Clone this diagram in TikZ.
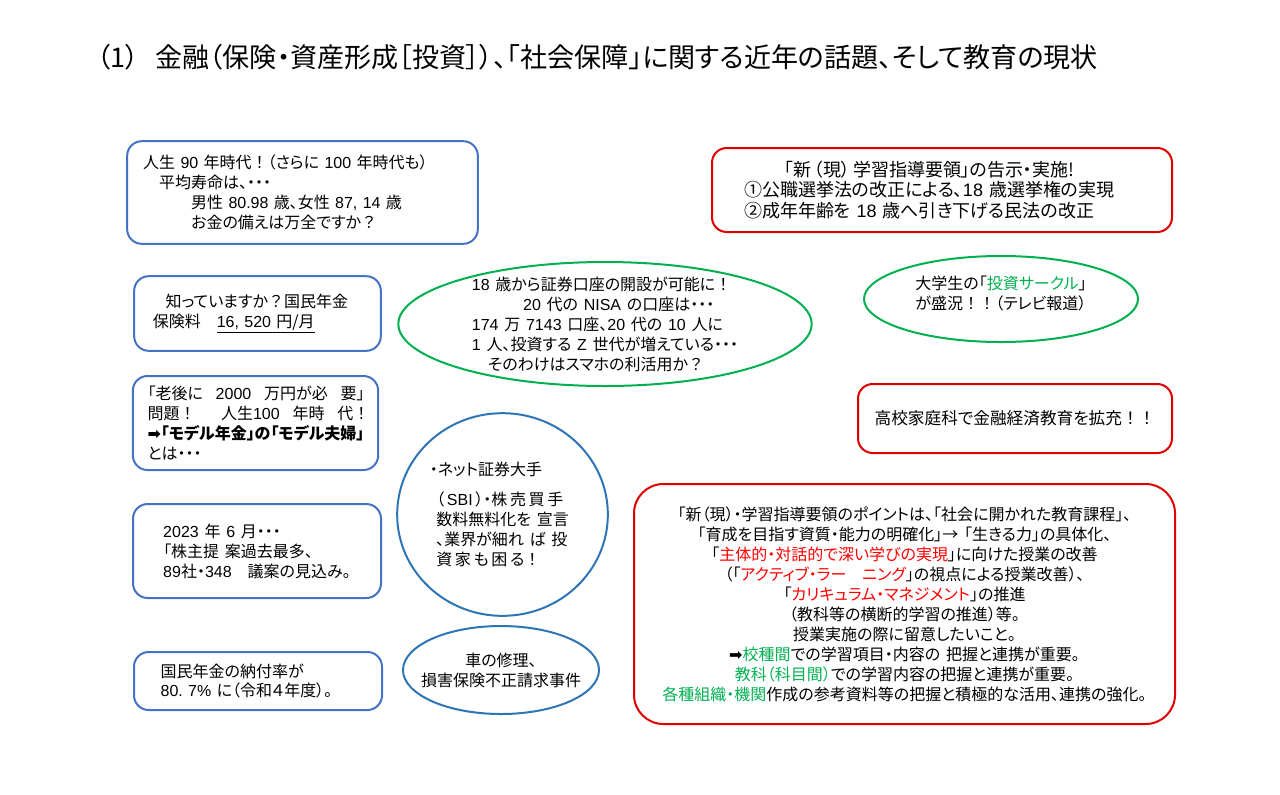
\documentclass[tikz,border=0pt]{standalone}
\usepackage{fontspec}
\setmainfont{Noto Sans CJK JP}[RawFeature=+palt, WordSpace=1.6]
\newfontfamily\titlefont{Noto Sans CJK JP}[RawFeature=+palt]
\newfontfamily\fwfont{Noto Sans CJK JP}
\newfontfamily\latinfont{Liberation Sans}
\newfontfamily\symfont{DejaVu Sans}
\newcommand{\lt}[1]{{\latinfont #1}}
\newcommand{\fw}[1]{{\fwfont #1}}
\usetikzlibrary{shapes.geometric}
\definecolor{boxblue}{HTML}{4472C4}
\definecolor{boxred}{HTML}{E00000}
\definecolor{ovalgreen}{HTML}{00B050}
\definecolor{ovalblue}{HTML}{2E75B6}
\definecolor{textred}{HTML}{FF0000}
\begin{document}
\begin{tikzpicture}[x=0.75pt, y=-0.75pt,
        every node/.style={font=\fontsize{12}{15}\selectfont},
        bluebox/.style={rectangle, rounded corners=11pt, draw=boxblue,
            line width=1.5pt, align=left, inner ysep=0pt},
        redbox/.style={rectangle, rounded corners=11pt, draw=boxred,
            line width=1.5pt, align=center, inner ysep=0pt},
        greenoval/.style={ellipse, draw=ovalgreen, line width=1.5pt,
            inner sep=-40pt},
        blueoval/.style={ellipse, draw=ovalblue, line width=1.5pt,
            inner sep=-40pt}
      ]
      \useasboundingbox (0,0) rectangle (1280,794);
      \node[anchor=west, font=\titlefont\fontsize{20.3}{24}\selectfont] (title) at (92,57)
      {（1）\hspace{0.6em}金融（保険・資産形成［投資］）、「社会保障」に関する近年の話題、そして教育の現状};
      \node[bluebox, minimum height=77pt, inner xsep=12pt, text width=239pt]
      (jinsei) at (302.5,192.5)
      {人生~\lt{90}~年時代\fw{！}（さらに~\lt{100}~年時代も）\\
       \hspace*{1em}平均寿命は、・・・\\
       \hspace*{3em}男性~\lt{80.98}~歳、女性~\lt{87,~14}~歳\\
       \hspace*{3em}お金の備えは万全ですか\fw{？}};
      \node[redbox, minimum height=63pt, inner xsep=24pt, text width=297pt, align=left,
            font=\fontsize{13.5}{15.5}\selectfont]
      (shidou) at (942,190)
      {\hspace*{30pt}「新\,（現）\,学習指導要領」の告示・実施!\\
       ①公職選挙法の改正による、\lt{18}~歳選挙権の実現\\
       ②成年年齢を~\lt{18}~歳へ引き下げる民法の改正};
      \node[bluebox, minimum height=56pt, inner xsep=14pt, text width=157pt]
      (hokenryo) at (257.5,313.5)
      {\hspace*{0.8em}知っていますか\fw{？}国民年金\\
       保険料\kern1em\underline{\lt{16,~520}~円/月}};
      \node[greenoval, minimum width=310pt, minimum height=93pt, align=left]
      (nisa) at (605,324)
      {\lt{18}~歳から証券口座の開設が可能に\fw{！}\\
       \hspace*{3.2em}\lt{20}~代の~\lt{NISA}~の口座は・・・\\
       \lt{174}~万~\lt{7143}~口座、\lt{20}~代の~\lt{10}~人に\\
       \lt{1}~人、投資する~\lt{Z}~世代が増えている・・・\\
       \hspace*{1em}そのわけはスマホの利活用か\fw{？}};
      \node[greenoval, minimum width=205.5pt, minimum height=64.5pt, align=center]
      (circle) at (1001,299)
      {大学生の「\textcolor{ovalgreen}{投資サークル}」\\
       が盛況\fw{！！}（テレビ報道）\\[-5pt]\mbox{}};
      \node[bluebox, minimum height=70.5pt, inner xsep=11pt, text width=162pt]
      (rougo) at (255.5,423)
      {「老後に\kern0.8em\lt{2000}\kern0.8em 万円が必\kern0.8em 要」\\
       問題\fw{！}\kern1.6em 人生\lt{100}\kern0.8em 年時\kern0.8em 代\fw{！}\\
       \textbf{{\symfont ➡}「モデル年金」の「モデル夫婦」}\\
       とは・・・};
      \node[redbox, minimum width=235.5pt, minimum height=51.75pt,
            font=\fontsize{12.5}{15}\selectfont]
      (katei) at (1015,418.5)
      {高校家庭科で金融経済教育を拡充\fw{！！}};
      \node[blueoval, minimum width=158pt, minimum height=152pt, align=left]
      (netsho) at (502.5,514.5)
      {\hspace*{-0.4em}・ネット証券大手\\[8pt]
       （\,\lt{SBI}\,）・株\,売\,買\,手\\
       数料無料化を~宣言\\
       、業界が細れ~ば~投\\
       資\,家\,も\,困\,る\fw{！}};
      \node[bluebox, minimum width=186pt, minimum height=70.5pt]
      (teian) at (257,551)
      {\lt{2023}~年~\lt{6}~月・・・\\
       「株主提~案過去最多、\\
       \lt{89}社・\lt{348}\kern1em 議案の見込み。};
      \node[redbox, rounded corners=22pt, minimum width=405.75pt, minimum height=180pt]
      (point) at (904.5,604)
      {「新（現）・学習指導要領のポイントは、「社会に開かれた教育課程」、\\
       「育成を目指す資質・能力の明確化」→~「生きる力」の具体化、\\
       「\textcolor{textred}{主体的・対話的で深い学びの実現}」に向けた授業の改善\\
       （「\textcolor{textred}{アクティブ・ラー\kern1em ニング}」の視点による授業改善）、\\
       「\textcolor{textred}{カリキュラム・マネジメント}」の推進\\
       （教科等の横断的学習の推進）等。\\
       授業実施の際に留意したいこと。\\
       {\symfont ➡}\textcolor{ovalgreen}{校種間}での学習項目・内容の~把握と連携が重要。\\
       \textcolor{ovalgreen}{教科（科目間）}での学習内容の把握と連携が重要。\\
       \textcolor{ovalgreen}{各種組織・機関}作成の参考資料等の把握と積極的な活用、連携の強化。};
      \node[bluebox, minimum height=43.5pt, inner xsep=20pt, text width=146pt,
            font=\fontsize{12}{14.25}\selectfont]
      (nofu) at (258,681)
      {国民年金の納付率が\\
       \lt{80.~7\%}~に（令和４年度）。};
      \node[blueoval, minimum width=147pt, minimum height=66pt, align=center]
      (songai) at (501,670)
      {車の修理、\\
       損害保険不正請求事件};
    \end{tikzpicture}
\end{document}
